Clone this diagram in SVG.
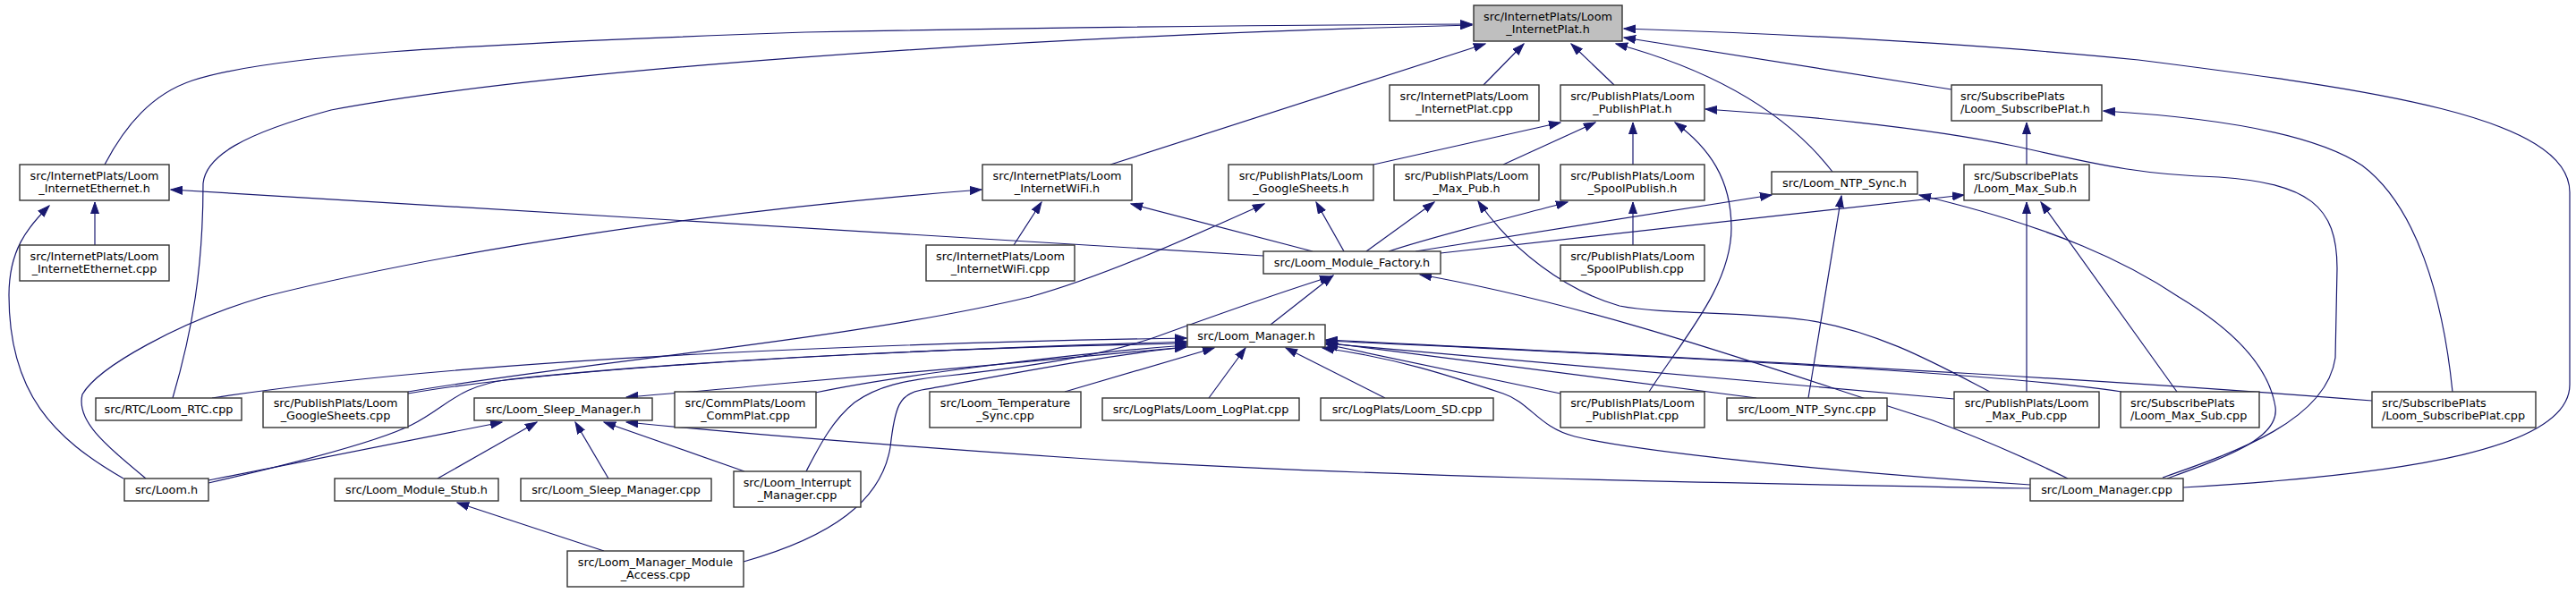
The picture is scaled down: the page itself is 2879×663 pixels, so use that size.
<svg xmlns="http://www.w3.org/2000/svg" width="2879" height="663" viewBox="0 0 2879 663">
<style>
.n rect{fill:#fff;stroke:#333;stroke-width:1.4}
.n text{font-family:"DejaVu Sans","Liberation Sans",sans-serif;font-size:12.8px;fill:#000;text-anchor:middle}
.n text.l{text-anchor:start}
#root rect{fill:#bfbfbf}
.e path{fill:none;stroke:#191970;stroke-width:1.2;marker-end:url(#ah)}
</style>
<defs>
<marker id="ah" markerUnits="userSpaceOnUse" markerWidth="14" markerHeight="10" viewBox="0 0 14 10" refX="13" refY="5" orient="auto">
<path d="M0,0.5 L13,5 L0,9.5 z" fill="#191970" stroke="#191970" stroke-width="1"/>
</marker>
</defs>
<rect width="2879" height="663" fill="#fff"/>
<g id="edges" class="e">
<path d="M117,184 C140,140 170,105 215,90 C300,62 500,50 900,36 C1200,30 1450,28 1645,27"/>
<path d="M193,445 C215,370 227,300 227,205 C230,175 270,150 370,123 C600,80 1100,42 1645,28"/>
<path d="M1241,184 L1660,49"/>
<path d="M1658,95 L1703,49"/>
<path d="M1804,95 L1756,49"/>
<path d="M2048,192 C2000,130 1920,80 1806,49"/>
<path d="M2181,100 L1815,42"/>
<path d="M2440,545 C2700,530 2872,500 2872,430 L2872,215 C2872,130 2650,100 2390,67 C2200,48 2000,38 1815,32"/>
<path d="M2741,438 C2730,330 2700,230 2640,185 C2580,145 2450,130 2351,124"/>
<path d="M1535,184 L1744,137"/>
<path d="M1680,184 L1783,137"/>
<path d="M1825,184 L1825,137"/>
<path d="M1843,438 C1880,380 1935,320 1935,255 C1935,200 1910,165 1872,137"/>
<path d="M2417,534 C2500,505 2600,470 2610,400 L2612,300 C2612,230 2580,205 2480,198 C2380,195 2330,180 2250,163 C2150,142 2000,128 1906,122"/>
<path d="M1825,274 L1825,226"/>
<path d="M1412,286 L191,212"/>
<path d="M138,535 C60,490 10,440 10,330 C10,280 30,255 55,230"/>
<path d="M163,535 C115,495 85,470 92,441 C110,410 200,360 294,332 C500,280 800,235 1097,212"/>
<path d="M1467,281 L1264,228"/>
<path d="M456,438 C650,405 950,380 1151,332 C1230,310 1320,270 1413,228"/>
<path d="M1502,281 L1471,226"/>
<path d="M1527,281 L1603,226"/>
<path d="M1552,281 C1600,265 1680,245 1752,226"/>
<path d="M1582,281 L1980,218"/>
<path d="M1610,283 L2195,218"/>
<path d="M1420,363 L1490,308"/>
<path d="M2311,535 C2250,505 2200,485 2160,470 C2000,420 1800,345 1587,307"/>
<path d="M2224,438 C2170,410 2100,370 2020,358 C1950,348 1860,352 1810,342 C1750,325 1690,280 1652,225"/>
<path d="M901,527 C915,500 930,470 955,450 C980,432 1010,425 1060,420 C1150,410 1230,398 1291,377 C1360,352 1430,327 1488,309"/>
<path d="M1326,388 C1200,400 1000,418 860,430 C800,436 750,440 700,444"/>
<path d="M237,445 C400,420 600,405 800,395 C1000,385 1200,380 1326,378"/>
<path d="M456,440 C600,415 900,395 1326,382"/>
<path d="M233,540 C320,520 420,495 460,475 C500,455 510,432 570,424 C800,400 1100,388 1326,384"/>
<path d="M911,439 C1000,420 1200,395 1326,386"/>
<path d="M831,628 C930,600 985,560 995,500 C1000,455 1005,440 1030,436 C1130,418 1230,398 1326,388"/>
<path d="M1190,438 L1357,389"/>
<path d="M1351,445 L1392,389"/>
<path d="M1548,445 L1437,389"/>
<path d="M1744,440 L1482,385"/>
<path d="M1963,445 L1482,383"/>
<path d="M2184,446 L1482,384"/>
<path d="M2371,438 C2250,420 2000,405 1482,381"/>
<path d="M2651,448 C2400,428 2100,410 1482,380"/>
<path d="M2269,542 C2050,528 1830,505 1760,488 C1720,478 1710,450 1680,440 C1620,420 1560,400 1478,389"/>
<path d="M233,537 L561,472"/>
<path d="M489,535 L600,472"/>
<path d="M680,535 L643,472"/>
<path d="M832,527 L675,472"/>
<path d="M2269,546 C1900,540 1500,532 1200,512 C950,495 800,482 700,472"/>
<path d="M675,616 L511,562"/>
<path d="M2021,445 L2058,219"/>
<path d="M2422,535 C2490,510 2548,490 2543,455 C2535,405 2490,365 2435,332 C2380,295 2300,255 2145,218"/>
<path d="M2265,438 L2265,226"/>
<path d="M2433,438 L2281,226"/>
<path d="M2265,184 L2265,137"/>
<path d="M1133,274 L1164,226"/>
<path d="M106,274 L106,226"/>
</g>
<g id="root" class="n"><rect x="1647" y="6" width="166" height="40"/><text x="1730" y="22.5">src/InternetPlats/Loom</text><text x="1730" y="37">_InternetPlat.h</text></g>
<g id="n_eth_h" class="n"><rect x="22" y="184" width="167" height="40"/><text x="105.5" y="200.5">src/InternetPlats/Loom</text><text x="105.5" y="215">_InternetEthernet.h</text></g>
<g id="n_eth_cpp" class="n"><rect x="22" y="274" width="167" height="40"/><text x="105.5" y="290.5">src/InternetPlats/Loom</text><text x="105.5" y="305">_InternetEthernet.cpp</text></g>
<g id="n_wifi_h" class="n"><rect x="1098" y="184" width="167" height="40"/><text x="1181.5" y="200.5">src/InternetPlats/Loom</text><text x="1181.5" y="215">_InternetWiFi.h</text></g>
<g id="n_wifi_cpp" class="n"><rect x="1035" y="274" width="166" height="40"/><text x="1118" y="290.5">src/InternetPlats/Loom</text><text x="1118" y="305">_InternetWiFi.cpp</text></g>
<g id="n_gs_h" class="n"><rect x="1373" y="184" width="162" height="40"/><text x="1454" y="200.5">src/PublishPlats/Loom</text><text x="1454" y="215">_GoogleSheets.h</text></g>
<g id="n_factory" class="n"><rect x="1412" y="281" width="198" height="25"/><text x="1511" y="297.5">src/Loom_Module_Factory.h</text></g>
<g id="n_ip_cpp" class="n"><rect x="1553" y="95" width="167" height="40"/><text x="1636.5" y="111.5">src/InternetPlats/Loom</text><text x="1636.5" y="126">_InternetPlat.cpp</text></g>
<g id="n_pp_h" class="n"><rect x="1744" y="95" width="161" height="40"/><text x="1824.5" y="111.5">src/PublishPlats/Loom</text><text x="1824.5" y="126">_PublishPlat.h</text></g>
<g id="n_mp_h" class="n"><rect x="1558" y="184" width="162" height="40"/><text x="1639" y="200.5">src/PublishPlats/Loom</text><text x="1639" y="215">_Max_Pub.h</text></g>
<g id="n_sp_h" class="n"><rect x="1744" y="184" width="161" height="40"/><text x="1824.5" y="200.5">src/PublishPlats/Loom</text><text x="1824.5" y="215">_SpoolPublish.h</text></g>
<g id="n_sp_cpp" class="n"><rect x="1744" y="274" width="161" height="40"/><text x="1824.5" y="290.5">src/PublishPlats/Loom</text><text x="1824.5" y="305">_SpoolPublish.cpp</text></g>
<g id="n_ntp_h" class="n"><rect x="1980" y="192" width="163" height="25"/><text x="2061.5" y="208.5">src/Loom_NTP_Sync.h</text></g>
<g id="n_subp_h" class="n"><rect x="2181" y="95" width="168" height="40"/><text class="l" x="2191" y="111.5">src/SubscribePlats</text><text class="l" x="2191" y="126">/Loom_SubscribePlat.h</text></g>
<g id="n_ms_h" class="n"><rect x="2195" y="184" width="140" height="40"/><text class="l" x="2206" y="200.5">src/SubscribePlats</text><text class="l" x="2206" y="215">/Loom_Max_Sub.h</text></g>
<g id="n_rtc" class="n"><rect x="107" y="445" width="163" height="25"/><text x="188.5" y="461.5">src/RTC/Loom_RTC.cpp</text></g>
<g id="n_gs_cpp" class="n"><rect x="294" y="438" width="162" height="40"/><text x="375" y="454.5">src/PublishPlats/Loom</text><text x="375" y="469">_GoogleSheets.cpp</text></g>
<g id="n_sleep_h" class="n"><rect x="530" y="445" width="199" height="25"/><text x="629.5" y="461.5">src/Loom_Sleep_Manager.h</text></g>
<g id="n_loom_h" class="n"><rect x="139" y="535" width="94" height="25"/><text x="186" y="551.5">src/Loom.h</text></g>
<g id="n_stub_h" class="n"><rect x="374" y="535" width="183" height="25"/><text x="465.5" y="551.5">src/Loom_Module_Stub.h</text></g>
<g id="n_sleep_cpp" class="n"><rect x="582" y="535" width="213" height="25"/><text x="688.5" y="551.5">src/Loom_Sleep_Manager.cpp</text></g>
<g id="n_access" class="n"><rect x="634" y="616" width="197" height="40"/><text x="732.5" y="632.5">src/Loom_Manager_Module</text><text x="732.5" y="647">_Access.cpp</text></g>
<g id="n_comm" class="n"><rect x="754" y="438" width="158" height="40"/><text x="833" y="454.5">src/CommPlats/Loom</text><text x="833" y="469">_CommPlat.cpp</text></g>
<g id="n_interrupt" class="n"><rect x="820" y="527" width="142" height="40"/><text x="891" y="543.5">src/Loom_Interrupt</text><text x="891" y="558">_Manager.cpp</text></g>
<g id="n_temp" class="n"><rect x="1039" y="438" width="169" height="40"/><text x="1123.5" y="454.5">src/Loom_Temperature</text><text x="1123.5" y="469">_Sync.cpp</text></g>
<g id="n_logplat" class="n"><rect x="1232" y="445" width="220" height="25"/><text x="1342" y="461.5">src/LogPlats/Loom_LogPlat.cpp</text></g>
<g id="n_manager_h" class="n"><rect x="1327" y="363" width="154" height="25"/><text x="1404" y="379.5">src/Loom_Manager.h</text></g>
<g id="n_sd" class="n"><rect x="1476" y="445" width="193" height="25"/><text x="1572.5" y="461.5">src/LogPlats/Loom_SD.cpp</text></g>
<g id="n_pp_cpp" class="n"><rect x="1744" y="438" width="161" height="40"/><text x="1824.5" y="454.5">src/PublishPlats/Loom</text><text x="1824.5" y="469">_PublishPlat.cpp</text></g>
<g id="n_ntp_cpp" class="n"><rect x="1930" y="445" width="179" height="25"/><text x="2019.5" y="461.5">src/Loom_NTP_Sync.cpp</text></g>
<g id="n_mp_cpp" class="n"><rect x="2184" y="438" width="162" height="40"/><text x="2265" y="454.5">src/PublishPlats/Loom</text><text x="2265" y="469">_Max_Pub.cpp</text></g>
<g id="n_ms_cpp" class="n"><rect x="2370" y="438" width="155" height="40"/><text class="l" x="2381" y="454.5">src/SubscribePlats</text><text class="l" x="2381" y="469">/Loom_Max_Sub.cpp</text></g>
<g id="n_subp_cpp" class="n"><rect x="2651" y="438" width="183" height="40"/><text class="l" x="2662" y="454.5">src/SubscribePlats</text><text class="l" x="2662" y="469">/Loom_SubscribePlat.cpp</text></g>
<g id="n_manager_cpp" class="n"><rect x="2269" y="535" width="171" height="25"/><text x="2354.5" y="551.5">src/Loom_Manager.cpp</text></g>
</svg>
